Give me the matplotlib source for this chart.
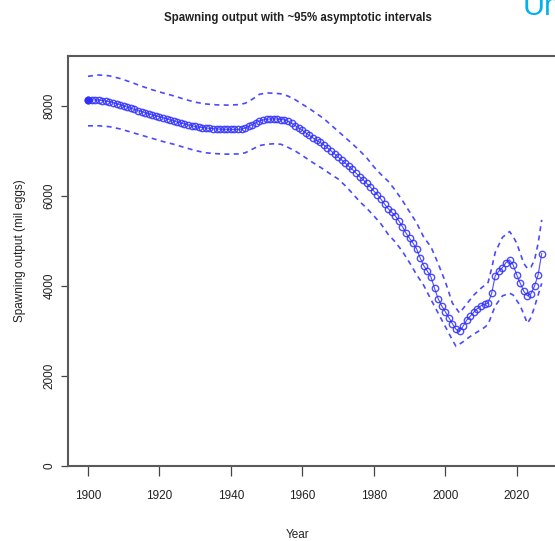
import numpy as np
import matplotlib
matplotlib.use("Agg")
import matplotlib.pyplot as plt

plt.rcParams['font.family'] = ['Liberation Sans', 'DejaVu Sans']

# spawning output, one value per year
years = np.arange(1900, 2028)
spawn = [
    8133, 8135, 8135, 8130, 8120, 8110, 8095, 8075, 8050, 8025,   # 1900s
    8000, 7975, 7950, 7925, 7900, 7875, 7850, 7825, 7800, 7780,   # 1910s
    7762, 7740, 7715, 7690, 7665, 7645, 7625, 7600, 7580, 7560,   # 1920s
    7545, 7530, 7520, 7510, 7502, 7495, 7490, 7485, 7482, 7480,   # 1930s
    7480, 7480, 7480, 7485, 7510, 7545, 7585, 7630, 7665, 7690,   # 1940s
    7705, 7710, 7712, 7710, 7700, 7690, 7660, 7615, 7565, 7510,   # 1950s
    7460, 7400, 7345, 7290, 7235, 7190, 7135, 7070, 7005, 6935,   # 1960s
    6865, 6800, 6730, 6660, 6590, 6510, 6430, 6360, 6280, 6200,   # 1970s
    6110, 6030, 5930, 5820, 5720, 5640, 5560, 5450, 5320, 5180,   # 1980s
    5060, 4950, 4820, 4620, 4450, 4330, 4200, 3950, 3720, 3560,   # 1990s
    3430, 3300, 3160, 3040, 2990, 3110, 3240, 3330, 3420, 3500,   # 2000s
    3560, 3590, 3620, 3840, 4230, 4330, 4410, 4520, 4580, 4470,   # 2010s
    4250, 4060, 3880, 3780, 3830, 4000, 4250, 4720,               # 2020s
]

# upper and lower ~95% interval
upper_years = [1900, 1903, 1906, 1909, 1912, 1915, 1918, 1921, 1924, 1927,
               1930, 1933, 1936, 1939, 1942, 1944, 1946, 1948, 1950, 1952,
               1954, 1956, 1958, 1960, 1962, 1964, 1966, 1968, 1970, 1972,
               1974, 1976, 1978, 1980, 1982, 1984, 1986, 1988, 1990, 1992,
               1994, 1996, 1998, 2000, 2002, 2004, 2006, 2008, 2010, 2012,
               2013, 2014, 2016, 2018, 2019, 2020, 2022, 2023, 2024, 2025,
               2026, 2027]
upper = [8660, 8690, 8670, 8610, 8530, 8440, 8360, 8290, 8225, 8150,
         8085, 8045, 8025, 8020, 8030, 8060, 8150, 8260, 8290, 8285,
         8270, 8220, 8140, 8040, 7940, 7830, 7720, 7580, 7440, 7300,
         7160, 7010, 6850, 6650, 6480, 6330, 6130, 5900, 5650, 5400,
         5080, 4870, 4500, 4100, 3620, 3400, 3600, 3800, 3950, 4080,
         4400, 4750, 5080, 5210, 5100, 4950, 4500, 4390, 4420, 4580,
         4950, 5470]

lower_years = [1900, 1903, 1906, 1909, 1912, 1915, 1918, 1921, 1924, 1927,
               1930, 1933, 1936, 1939, 1942, 1944, 1946, 1948, 1950, 1952,
               1954, 1956, 1958, 1960, 1962, 1964, 1966, 1968, 1970, 1972,
               1974, 1976, 1978, 1980, 1982, 1984, 1986, 1988, 1990, 1992,
               1994, 1996, 1998, 2000, 2002, 2003, 2005, 2007, 2009, 2011,
               2012, 2014, 2016, 2018, 2019, 2021, 2023, 2024, 2025, 2027]
lower = [7560, 7560, 7540, 7490, 7420, 7350, 7280, 7210, 7150, 7080,
         7010, 6960, 6940, 6930, 6935, 6960, 7040, 7120, 7150, 7160,
         7150, 7080, 7000, 6900, 6790, 6690, 6590, 6480, 6380, 6230,
         6060, 5880, 5730, 5560, 5380, 5150, 4980, 4770, 4520, 4250,
         4010, 3700, 3400, 3100, 2800, 2660, 2760, 2880, 2980, 3080,
         3150, 3560, 3780, 3840, 3800, 3560, 3170, 3300, 3540, 4060]

x_ticks = [1900, 1920, 1940, 1960, 1980, 2000, 2020]
y_ticks = [0, 2000, 4000, 6000, 8000]

W, H = 555, 541
fig = plt.figure(figsize=(W / 100, H / 100), dpi=100)

# plot region in pixels: left 68, top 56, bottom 466, right runs off the page
left, top, bottom, right = 68, 56, 466, 575
ax = fig.add_axes([left / W, (H - bottom) / H, (right - left) / W, (bottom - top) / H])

px_per_year = 3.5725
ax.set_xlim(1900 - (88 - left) / px_per_year, 1900 + (right - 88) / px_per_year)
ax.set_ylim(0, (bottom - top) / 90 * 2000)

line_col = '#2f2fff'
dash_col = '#4a4aff'

ax.plot(upper_years, upper, color=dash_col, lw=1.2, ls=(0, (3, 2.6)))
ax.plot(lower_years, lower, color=dash_col, lw=1.2, ls=(0, (3, 2.6)))
ax.plot(years, spawn, color=line_col, lw=0.8, marker='o', ms=4.6,
        mfc='none', mec=line_col, mew=1.0, alpha=0.85)
ax.plot(years[0], spawn[0], 'o', color=line_col, ms=4.8)

frame_col = '#5a5a5a'
for side in ['top', 'left', 'bottom']:
    ax.spines[side].set_color(frame_col)
    ax.spines[side].set_linewidth(1.5)
ax.spines['right'].set_visible(False)

ax.set_xticks(x_ticks)
ax.set_yticks(y_ticks)
ax.set_yticklabels([str(v) for v in y_ticks], rotation=90, va='center')
ax.tick_params(axis='x', direction='out', length=7, width=0.9, color='#444444',
               pad=10, labelsize=8.5, labelcolor='#222222')
ax.tick_params(axis='y', direction='out', length=5, width=0.9, color='#444444',
               pad=4, labelsize=8.5, labelcolor='#222222')

fig.text(297.5 / W, 1 - 18.5 / H, 'Spawning output with ~95% asymptotic intervals',
         ha='center', va='center', fontsize=8.3, fontweight='bold', color='#222222')
fig.text(297.5 / W, 1 - 535 / H, 'Year', ha='center', va='center',
         fontsize=8.5, color='#222222')
fig.text(20 / W, 1 - 251 / H, 'Spawning output (mil eggs)', ha='center', va='center',
         rotation=90, fontsize=8.5, color='#222222')

# slide heading peeking in at the corner
fig.text(523 / W, 1 - 15 / H, 'Un', ha='left', va='baseline',
         fontsize=22, color='#00b0f0')

fig.savefig('out.png', dpi=100)
